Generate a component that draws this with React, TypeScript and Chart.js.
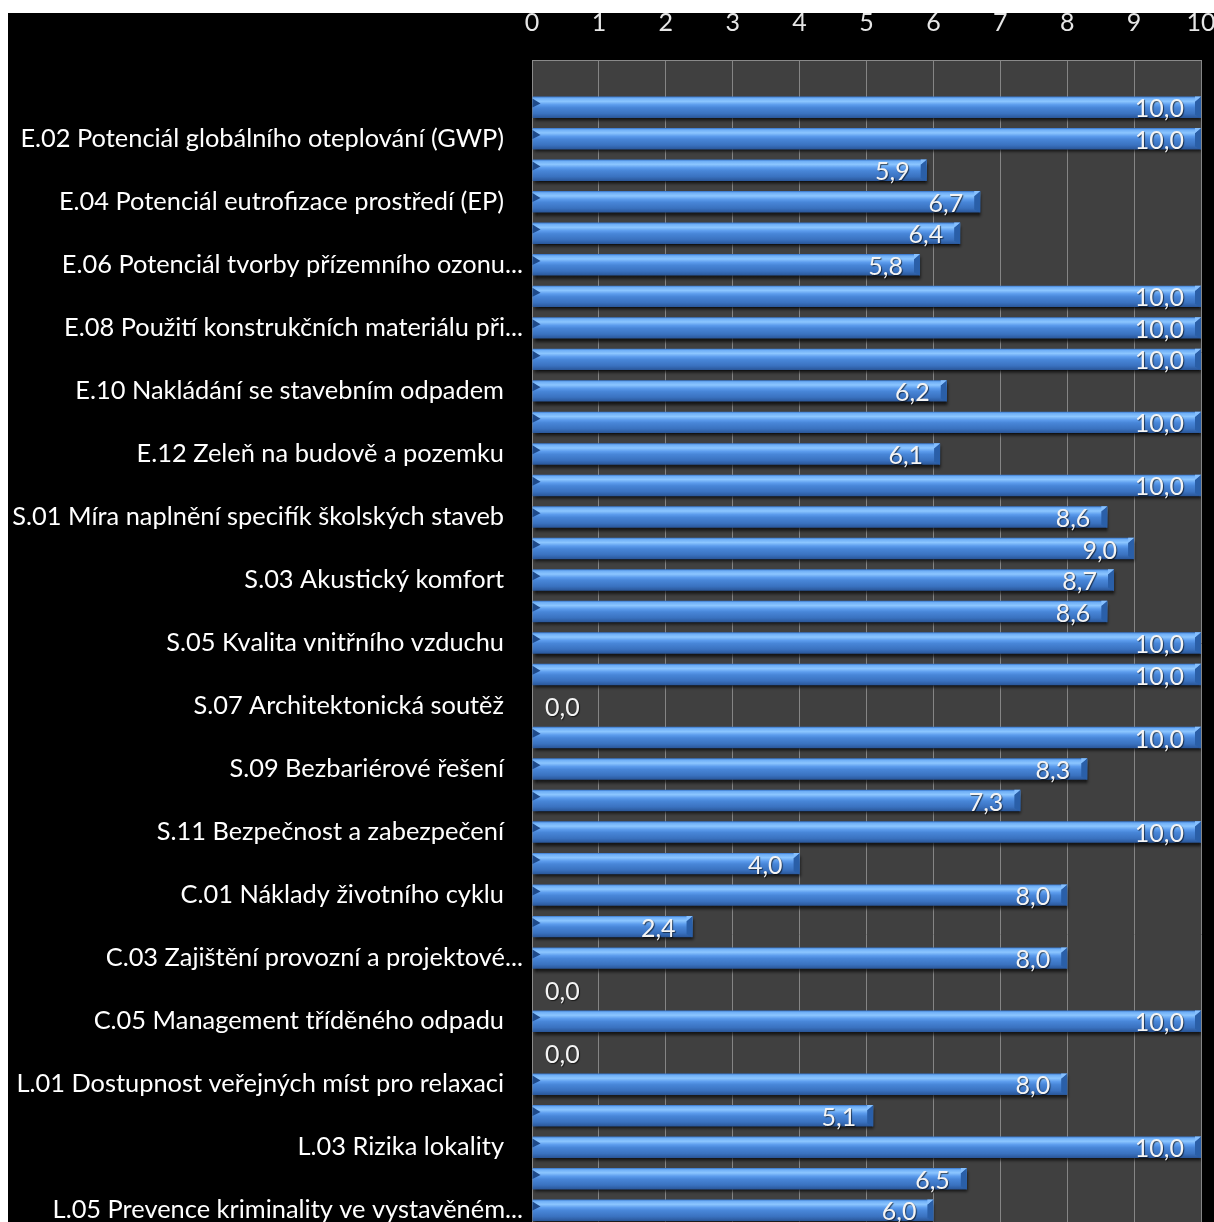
import React, { useEffect, useRef } from "react";
import { Chart, registerables } from "chart.js";
Chart.register(...registerables);

const categories: string[] = [
  "",
  "E.01",
  "E.02 Potenciál globálního oteplování (GWP)",
  "E.03",
  "E.04 Potenciál eutrofizace prostředí (EP)",
  "E.05",
  "E.06 Potenciál tvorby přízemního ozonu...",
  "E.07",
  "E.08 Použití konstrukčních materiálu při...",
  "E.09",
  "E.10 Nakládání se stavebním odpadem",
  "E.11",
  "E.12 Zeleň na budově a pozemku",
  "E.13",
  "S.01 Míra naplnění specifík školských staveb",
  "S.02",
  "S.03 Akustický komfort",
  "S.04",
  "S.05 Kvalita vnitřního vzduchu",
  "S.06",
  "S.07 Architektonická soutěž",
  "S.08",
  "S.09 Bezbariérové řešení",
  "S.10",
  "S.11 Bezpečnost a zabezpečení",
  "S.12",
  "C.01 Náklady životního cyklu",
  "C.02",
  "C.03 Zajištění provozní a projektové...",
  "C.04",
  "C.05 Management tříděného odpadu",
  "C.06",
  "L.01 Dostupnost veřejných míst pro relaxaci",
  "L.02",
  "L.03 Rizika lokality",
  "L.04",
  "L.05 Prevence kriminality ve vystavěném...",
];

const scores: (number | null)[] = [
  null,
  10.0, 10.0, 5.9, 6.7, 6.4, 5.8, 10.0, 10.0, 10.0, 6.2, 10.0, 6.1, 10.0,
  8.6, 9.0, 8.7, 8.6, 10.0, 10.0, 0.0, 10.0, 8.3, 7.3, 10.0, 4.0,
  8.0, 2.4, 8.0, 0.0, 10.0, 0.0,
  8.0, 5.1, 10.0, 6.5, 6.0,
];

const axisMin = 0;
const axisMax = 10;
const axisStep = 1;

const FONT = "Lato, 'Open Sans', sans-serif";

const fmt = (v: number) => v.toFixed(1).replace(".", ",");

export default function App() {
  const ref = useRef<HTMLCanvasElement | null>(null);

  useEffect(() => {
    const canvas = ref.current;
    if (!canvas) return;

    const decorPlugin = {
      id: "decor",
      beforeDraw(chart: any) {
        const { ctx, chartArea } = chart;
        ctx.save();
        ctx.fillStyle = "#000000";
        ctx.fillRect(0, 0, chart.width, chart.height);
        ctx.fillStyle = "#404040";
        ctx.fillRect(chartArea.left, chartArea.top, chartArea.right - chartArea.left, chartArea.bottom - chartArea.top);
        ctx.restore();
      },
      beforeDatasetsDraw(chart: any) {
        const ctx = chart.ctx;
        ctx.save();
        ctx.shadowColor = "rgba(0,0,0,0.7)";
        ctx.shadowOffsetX = 1;
        ctx.shadowOffsetY = 3;
        ctx.shadowBlur = 3;
      },
      afterDatasetsDraw(chart: any) {
        const ctx = chart.ctx;
        ctx.restore();
        const meta = chart.getDatasetMeta(0);
        const yScale = chart.scales.y;
        const area = chart.chartArea;
        meta.data.forEach((el: any, i: number) => {
          const v = scores[i];
          if (v === null || v === undefined || v <= 0) return;
          const h = el.height;
          const top = el.y - h / 2;
          const bot = el.y + h / 2;
          const x = el.x;
          const b = el.base;
          ctx.save();
          ctx.fillStyle = "#2a5fa8";
          ctx.beginPath();
          ctx.moveTo(x - 6, top + 5);
          ctx.lineTo(x, top);
          ctx.lineTo(x, bot);
          ctx.lineTo(x - 6, bot - 3);
          ctx.closePath();
          ctx.fill();
          ctx.fillStyle = "#86c0ff";
          ctx.beginPath();
          ctx.moveTo(x - 6, top + 5);
          ctx.lineTo(x - 6, top);
          ctx.lineTo(x, top);
          ctx.closePath();
          ctx.fill();
          ctx.fillStyle = "#1f4a8a";
          ctx.beginPath();
          ctx.moveTo(b, top + 2);
          ctx.lineTo(b + 8, top + 7);
          ctx.lineTo(b, top + 11);
          ctx.closePath();
          ctx.fill();
          ctx.restore();
        });
        ctx.save();
        ctx.font = `25px ${FONT}`;
        ctx.textBaseline = "middle";
        ctx.fillStyle = "#f4f4f4";
        ctx.shadowColor = "rgba(0,0,0,0.6)";
        ctx.shadowOffsetX = 1;
        ctx.shadowOffsetY = 1;
        ctx.shadowBlur = 1;
        meta.data.forEach((el: any, i: number) => {
          const v = scores[i];
          if (v === null || v === undefined) return;
          const y = el.y + 2;
          if (v <= 0) {
            ctx.textAlign = "left";
            ctx.fillText(fmt(v), area.left + 13, y);
          } else {
            ctx.textAlign = "right";
            ctx.fillText(fmt(v), el.x - 17, y);
          }
        });
        ctx.restore();
        ctx.save();
        ctx.font = `25.4px ${FONT}`;
        ctx.fillStyle = "#ffffff";
        ctx.textAlign = "right";
        ctx.textBaseline = "middle";
        categories.forEach((c, i) => {
          if (i % 2 !== 0 || !c) return;
          const y = yScale.getPixelForValue(i);
          const x = c.endsWith("...") ? area.left - 9 : area.left - 28;
          ctx.fillText(c, x, y);
        });
        ctx.restore();
      },
    };

    const chart = new Chart(canvas, {
      type: "bar",
      data: {
        labels: categories,
        datasets: [
          {
            data: scores as any,
            backgroundColor: (c: any) => {
              const ch = c.chart;
              const ys = ch.scales && ch.scales.y;
              if (!ys || c.dataIndex === undefined) return "#4a88d6";
              const yc = ys.getPixelForValue(c.dataIndex);
              const step = Math.abs(ys.getPixelForValue(1) - ys.getPixelForValue(0));
              if (!isFinite(yc) || !isFinite(step) || step <= 0) return "#4a88d6";
              const h = step * 0.67;
              const g = ch.ctx.createLinearGradient(0, yc - h / 2, 0, yc + h / 2);
              g.addColorStop(0, "#3a78cc");
              g.addColorStop(0.07, "#6eaef6");
              g.addColorStop(0.22, "#8cc6ff");
              g.addColorStop(0.38, "#5c9ced");
              g.addColorStop(0.52, "#4886d8");
              g.addColorStop(0.8, "#3a72c0");
              g.addColorStop(1, "#2a579a");
              return g;
            },
            borderWidth: 0,
            barPercentage: 0.68,
            categoryPercentage: 1,
          },
        ],
      },
      options: {
        indexAxis: "y",
        responsive: false,
        animation: false,
        devicePixelRatio: 1,
        layout: { padding: { left: 0, right: 13, top: 0, bottom: 0 } },
        plugins: {
          legend: { display: false },
          tooltip: { enabled: false },
        },
        scales: {
          x: {
            position: "top",
            min: axisMin,
            max: axisMax,
            ticks: {
              stepSize: axisStep,
              color: "#e6e6e6",
              font: { family: FONT, size: 25 },
              padding: 22,
              maxRotation: 0,
            },
            grid: { color: "#858585", lineWidth: 1, drawTicks: false },
            border: { display: true, color: "#8a8a8a", width: 1 },
            afterFit: (s: any) => {
              s.height = 47;
              s.paddingLeft = 0;
              s.paddingRight = 0;
            },
          },
          y: {
            type: "category",
            ticks: { display: false },
            grid: { display: false },
            border: { display: true, color: "#8a8a8a", width: 1 },
            afterFit: (s: any) => {
              s.width = 524;
              s.paddingTop = 0;
              s.paddingBottom = 0;
            },
          },
        },
      } as any,
      plugins: [decorPlugin],
    });

    return () => chart.destroy();
  }, []);

  return (
    <div
      style={{
        position: "absolute",
        left: 8,
        top: 13,
        width: 1206,
        height: 1209,
        overflow: "hidden",
        background: "#000",
      }}
    >
      <canvas ref={ref} width={1206} height={1213} style={{ display: "block" }} />
    </div>
  );
}
